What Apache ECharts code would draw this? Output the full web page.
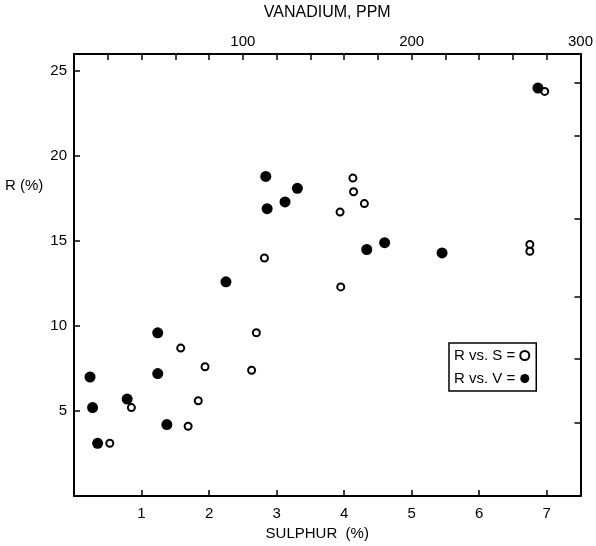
<!DOCTYPE html>
<html>
<head>
    <meta charset="utf-8">
    <title>R vs S / V</title>
    <script src="https://cdn.jsdelivr.net/npm/echarts@6/dist/echarts.min.js"></script>
    <style>
        html, body { margin: 0; padding: 0; background: #fff; }
        #main { width: 596px; height: 546px; }
    </style>
</head>
<body>
    <div id="main"></div>
    <script type="text/javascript">
// R vs. sulphur (open circles), x = S (%)
var sulphur = [0.53, 0.85, 1.69, 1.84, 1.58, 1.94, 2.63, 2.70, 2.82, 3.95, 3.94, 4.13, 4.14, 4.30, 6.75, 6.75, 6.97];
var rSulphur = [3.1, 5.2, 4.1, 5.6, 8.7, 7.6, 7.4, 9.6, 14.0, 12.3, 16.7, 18.7, 17.9, 17.2, 14.8, 14.4, 23.8];

// R vs. vanadium (filled dots), x = V (ppm)
var vanadium = [11, 14, 9.5, 31.5, 55, 49.6, 49.6, 90, 113.6, 114.4, 125, 132.3, 173.4, 184, 218, 274.8];
var rVanadium = [5.2, 3.1, 7.0, 5.7, 4.2, 9.6, 7.2, 12.6, 18.8, 16.9, 17.3, 18.1, 14.5, 14.9, 14.3, 24.0];

// unlabelled ticks on the right-hand frame (in R units)
var rightTicks = [4.3, 8.1, 11.7, 16.3, 21.2, 24.3];

var font = 'Liberation Sans';

function pairs(xs, ys) {
    var out = [];
    for (var i = 0; i < xs.length; i++) out.push([xs[i], ys[i]]);
    return out;
}

var myChart = echarts.init(document.getElementById('main'));

var axisLine = { show: true, onZero: false, lineStyle: { color: '#000', width: 2 } };
var tick = { show: true, inside: true, length: 6, lineStyle: { color: '#000', width: 1.5 } };

option = {
    backgroundColor: '#fff',
    animation: false,
    textStyle: { fontFamily: font, color: '#000' },
    grid: { left: 74, right: 14, top: 54, bottom: 50 },
    legend: {
        orient: 'vertical',
        align: 'right',
        left: 449,
        top: 343,
        padding: [5, 6, 5, 5],
        itemGap: 8,
        itemWidth: 9,
        itemHeight: 9,
        borderColor: '#000',
        borderWidth: 1.5,
        textStyle: { fontFamily: font, fontSize: 15, color: '#000' },
        data: [
            { name: 'R vs. S =', icon: 'circle' },
            { name: 'R vs. V =', icon: 'circle' }
        ]
    },
    graphic: [
        {
            type: 'text',
            left: 5,
            top: 178,
            style: { text: 'R (%)', font: '15px "Liberation Sans"', fill: '#000' }
        }
    ],
    xAxis: [
        {
            type: 'value',
            position: 'bottom',
            min: 0, max: 7.5, interval: 1,
            name: 'SULPHUR  (%)',
            nameLocation: 'middle',
            nameGap: 27,
            nameTextStyle: { fontFamily: font, fontSize: 15, color: '#000', padding: [0, 20, 0, 0] },
            axisLine: axisLine,
            axisTick: tick,
            splitLine: { show: false },
            axisLabel: {
                fontFamily: font, fontSize: 15, color: '#000', margin: 10,
                formatter: function (v) { return (v > 0 && v % 1 === 0) ? v : ''; }
            }
        },
        {
            type: 'value',
            position: 'top',
            min: 0, max: 300, interval: 20,
            name: 'VANADIUM, PPM',
            nameLocation: 'middle',
            nameGap: 33,
            nameTextStyle: { fontFamily: font, fontSize: 16, color: '#000' },
            axisLine: axisLine,
            axisTick: tick,
            splitLine: { show: false },
            axisLabel: {
                fontFamily: font, fontSize: 15, color: '#000', margin: 5,
                showMaxLabel: true,
                formatter: function (v) { return (v > 0 && v % 100 === 0) ? v : ''; }
            }
        }
    ],
    yAxis: [
        {
            type: 'value',
            position: 'left',
            min: 0, max: 26, interval: 5,
            axisLine: axisLine,
            axisTick: tick,
            splitLine: { show: false },
            axisLabel: {
                fontFamily: font, fontSize: 15, color: '#000', margin: 7,
                formatter: function (v) { return (v > 0 && v % 5 === 0) ? v : ''; }
            }
        },
        {
            type: 'value',
            position: 'right',
            min: 0, max: 26,
            axisLine: axisLine,
            axisTick: { show: true, inside: true, length: 6, lineStyle: { color: '#000', width: 1.5 }, customValues: rightTicks },
            splitLine: { show: false },
            axisLabel: { show: false }
        }
    ],
    series: [
        {
            name: 'R vs. S =',
            type: 'scatter',
            xAxisIndex: 0,
            yAxisIndex: 0,
            symbol: 'circle',
            symbolSize: 7,
            itemStyle: { color: '#fff', borderColor: '#000', borderWidth: 2, opacity: 1 },
            data: pairs(sulphur, rSulphur)
        },
        {
            name: 'R vs. V =',
            type: 'scatter',
            xAxisIndex: 1,
            yAxisIndex: 0,
            symbol: 'circle',
            symbolSize: 11,
            itemStyle: { color: '#000', opacity: 1 },
            data: pairs(vanadium, rVanadium)
        }
    ]
};

myChart.setOption(option);
    </script>
</body>
</html>
